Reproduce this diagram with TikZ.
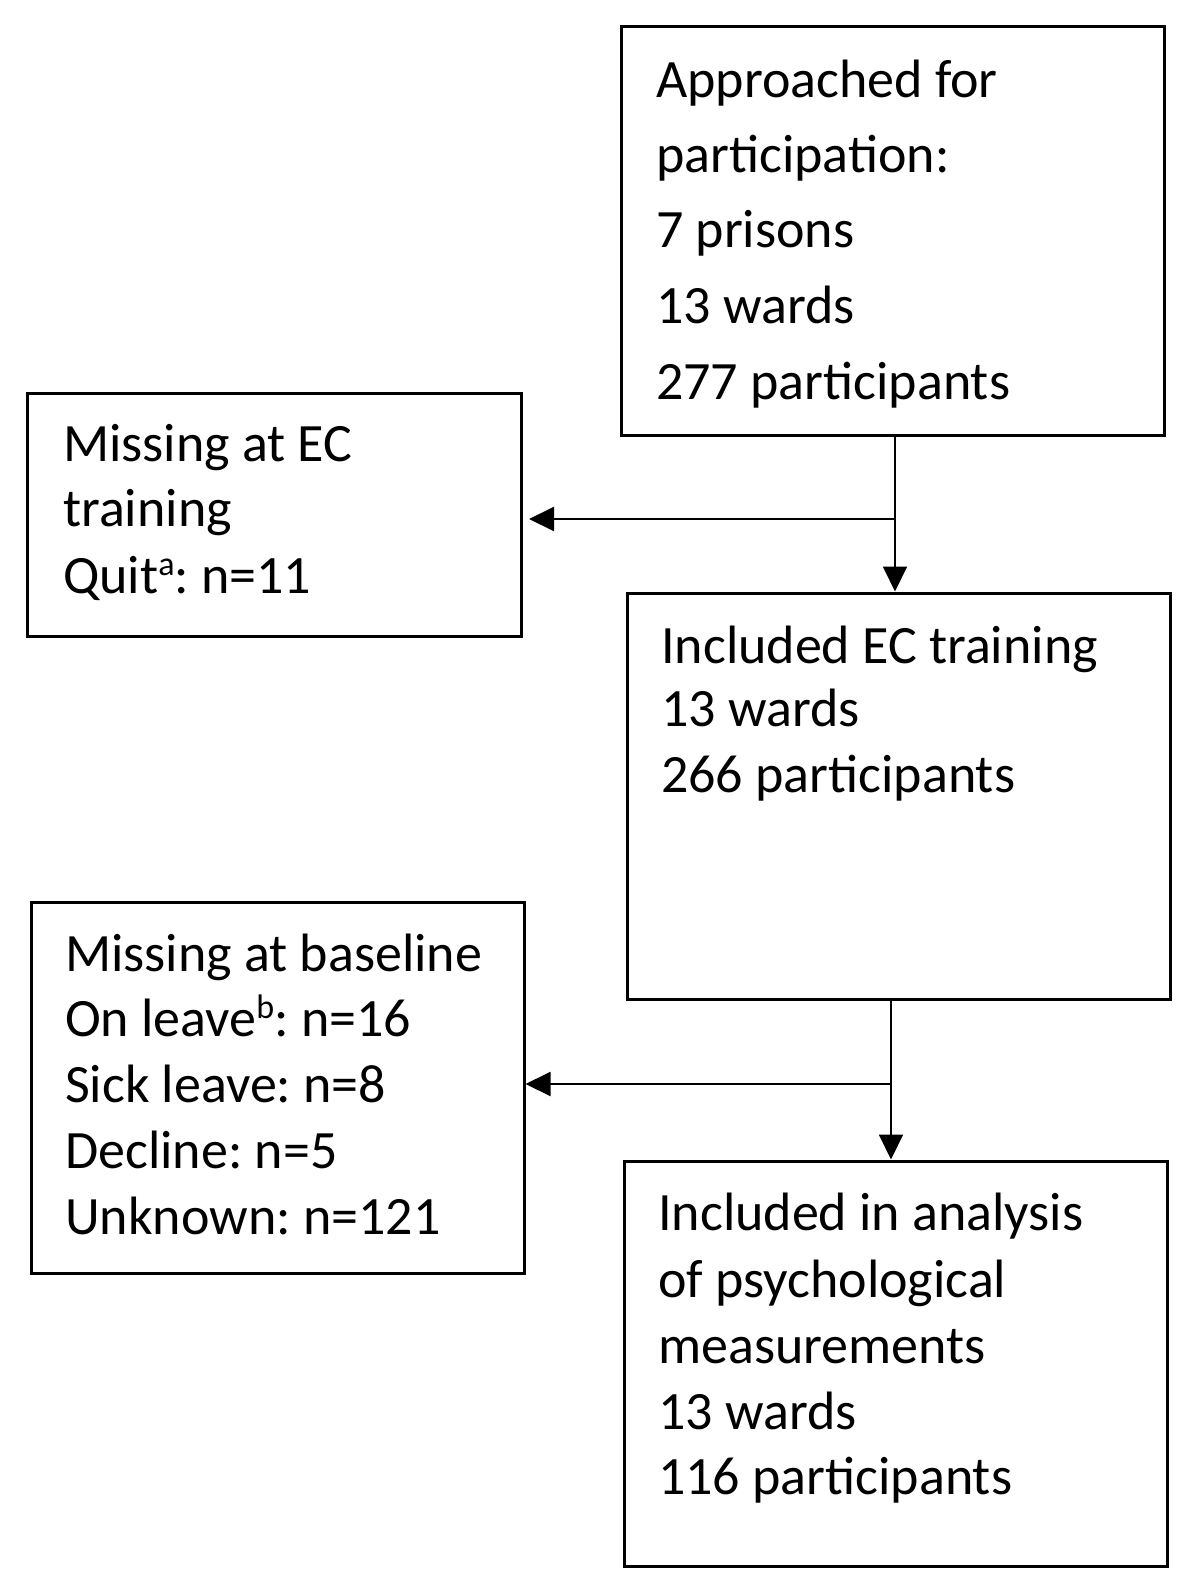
\documentclass[tikz,border=0pt]{standalone}
\usepackage{fontspec}
\setmainfont{Carlito}
\usetikzlibrary{arrows.meta}
\newcommand{\supr}[1]{\raisebox{0.33em}{\fontsize{34}{34}\selectfont #1}}
\begin{document}
\frenchspacing
\begin{tikzpicture}[x=1pt,y=-1pt,
  box/.style={draw=black,line width=3pt,rectangle,inner sep=0pt},
  txt/.style={anchor=base west,inner sep=0pt,font=\fontsize{54}{65}\selectfont},
  conn/.style={draw=black,line width=2pt},
  arr/.style={conn,-{Triangle[length=25pt,width=24pt]}}]
\fill[white] (0,0) rectangle (1200,1595);
\useasboundingbox (0,0) rectangle (1200,1595);
% boxes
\node[box,minimum width=543pt,minimum height=408pt] (A) at (892.5,231) {};
\node[box,minimum width=494pt,minimum height=243pt] (B) at (274,514.5) {};
\node[box,minimum width=543pt,minimum height=406pt] (C) at (898.5,796) {};
\node[box,minimum width=493pt,minimum height=371pt] (D) at (277.5,1087.5) {};
\node[box,minimum width=543pt,minimum height=405pt] (E) at (895.5,1363.5) {};
% texts
\node[txt] (a1) at (656,97) {Approached for};
\node[txt] (a2) at (656,172) {participation:};
\node[txt] (a3) at (656,247) {7 prisons};
\node[txt] (a4) at (656,323) {13 wards};
\node[txt] (a5) at (656,399) {277 participants};
\node[txt] (b1) at (63,461) {Missing at EC};
\node[txt] (b2) at (63,526) {training};
\node[txt] (b3) at (63,593) {Quit\supr{a}: n=11};
\node[txt] (c1) at (661,663) {Included EC training};
\node[txt] (c2) at (661,726) {13 wards};
\node[txt] (c3) at (661,792) {266 participants};
\node[txt] (d1) at (65,971) {Missing at baseline};
\node[txt] (d2) at (65,1036) {On leave\supr{b}: n=16};
\node[txt] (d3) at (65,1102) {Sick leave: n=8};
\node[txt] (d4) at (65,1168) {Decline: n=5};
\node[txt] (d5) at (65,1234) {Unknown: n=121};
\node[txt] (e1) at (658,1230) {Included in analysis};
\node[txt] (e2) at (658,1297) {of psychological};
\node[txt] (e3) at (658,1363) {measurements};
\node[txt] (e4) at (658,1429) {13 wards};
\node[txt] (e5) at (658,1494) {116 participants};
% connectors
\coordinate (j1) at (895,519);
\coordinate (t1) at (529,519);
\coordinate (j2) at (891,1084);
\draw[arr] (A.south -| j1) -- (C.north -| j1);
\draw[arr] (j1) -- (t1);
\draw[arr] (C.south -| j2) -- (E.north -| j2);
\draw[arr] (j2) -- (j2 -| D.east);
\end{tikzpicture}
\end{document}
